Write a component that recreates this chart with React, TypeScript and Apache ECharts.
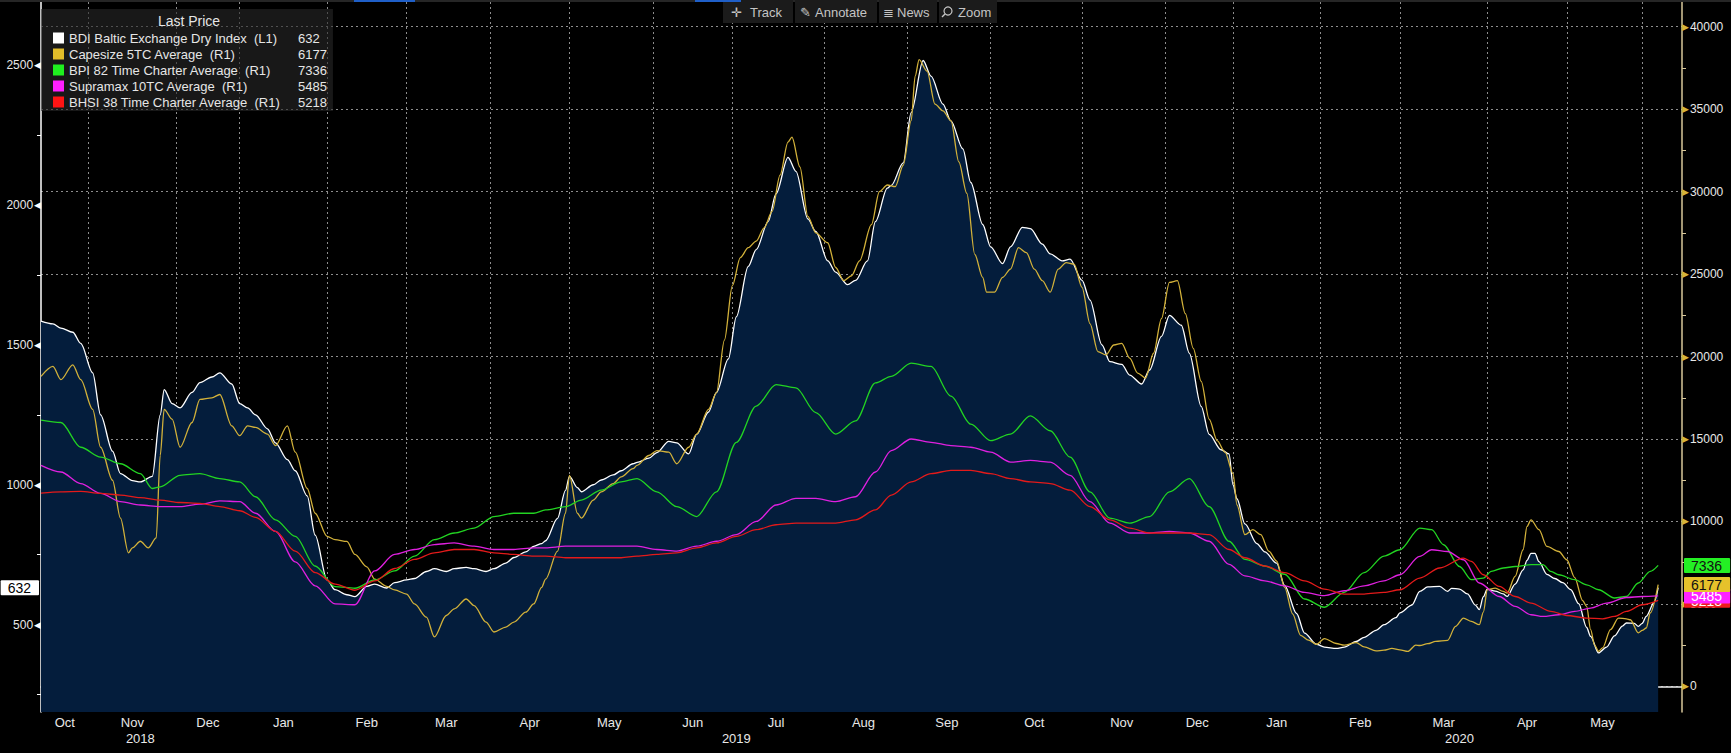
import React, { useEffect, useRef } from 'react';
import * as echarts from 'echarts';

type P = [string, number];

// ---------- calendar (trading days of the Baltic Exchange) ----------
const FIRST_DAY = '2018-10-16';
const LAST_AXIS_DAY = '2020-06-15';
const HOLIDAYS = [
  '2018-12-25', '2018-12-26', '2018-12-27', '2018-12-28', '2018-12-31', '2019-01-01',
  '2019-04-19', '2019-04-22', '2019-05-06', '2019-05-27', '2019-08-26',
  '2019-12-25', '2019-12-26', '2019-12-27', '2019-12-30', '2019-12-31', '2020-01-01',
  '2020-04-10', '2020-04-13', '2020-05-08', '2020-05-25',
];
const MONTH_NAMES = ['Jan', 'Feb', 'Mar', 'Apr', 'May', 'Jun', 'Jul', 'Aug', 'Sep', 'Oct', 'Nov', 'Dec'];

// ---------- axis ticks ----------
const LEFT_RANGE = [188, 2725];
const RIGHT_RANGE = [-1552, 41497];
const LEFT_TICKS = [500, 1000, 1500, 2000, 2500];
const LEFT_MINOR_TICKS = [250, 750, 1250, 1750, 2250];
const RIGHT_TICKS = [0, 5000, 10000, 15000, 20000, 25000, 30000, 35000, 40000];
const RIGHT_MINOR_TICKS = [2500, 7500, 12500, 17500, 22500, 27500, 32500, 37500];

// ---------- series values ----------
const bdi: P[] = [
  ['2018-10-16', 1585], ['2018-10-19', 1575], ['2018-10-23', 1560], ['2018-10-26', 1545], ['2018-10-30', 1505],
  ['2018-11-02', 1400], ['2018-11-06', 1250], ['2018-11-09', 1120], ['2018-11-13', 1040], ['2018-11-16', 1015],
  ['2018-11-20', 1010], ['2018-11-23', 1030], ['2018-11-27', 1250], ['2018-11-28', 1340], ['2018-11-30', 1290],
  ['2018-12-04', 1275], ['2018-12-07', 1330], ['2018-12-11', 1365], ['2018-12-14', 1385], ['2018-12-18', 1400],
  ['2018-12-21', 1360], ['2019-01-02', 1290], ['2019-01-04', 1275], ['2019-01-08', 1250], ['2019-01-11', 1200],
  ['2019-01-15', 1150], ['2019-01-18', 1090], ['2019-01-22', 1050], ['2019-01-25', 960], ['2019-01-29', 820],
  ['2019-02-01', 660], ['2019-02-05', 625], ['2019-02-08', 607], ['2019-02-12', 600], ['2019-02-15', 637],
  ['2019-02-19', 645], ['2019-02-22', 631], ['2019-02-26', 650], ['2019-03-01', 660], ['2019-03-05', 665],
  ['2019-03-08', 690], ['2019-03-12', 700], ['2019-03-15', 690], ['2019-03-19', 700], ['2019-03-22', 705],
  ['2019-03-26', 700], ['2019-03-29', 690], ['2019-04-02', 700], ['2019-04-05', 720], ['2019-04-09', 740],
  ['2019-04-12', 760], ['2019-04-16', 780], ['2019-04-18', 790], ['2019-04-23', 800], ['2019-04-26', 880],
  ['2019-04-30', 980], ['2019-05-01', 1030], ['2019-05-03', 990], ['2019-05-07', 975], ['2019-05-10', 1000],
  ['2019-05-14', 1017], ['2019-05-17', 1035], ['2019-05-21', 1050], ['2019-05-24', 1075], ['2019-05-28', 1080],
  ['2019-05-31', 1095], ['2019-06-04', 1115], ['2019-06-07', 1155], ['2019-06-11', 1150], ['2019-06-14', 1110],
  ['2019-06-18', 1180], ['2019-06-21', 1260], ['2019-06-25', 1330], ['2019-06-28', 1450], ['2019-07-02', 1600],
  ['2019-07-05', 1780], ['2019-07-09', 1840], ['2019-07-12', 1940], ['2019-07-16', 2040], ['2019-07-19', 2170],
  ['2019-07-23', 2120], ['2019-07-26', 1950], ['2019-07-30', 1905], ['2019-08-02', 1800], ['2019-08-06', 1760],
  ['2019-08-09', 1715], ['2019-08-13', 1730], ['2019-08-16', 1800], ['2019-08-20', 1940], ['2019-08-23', 2060],
  ['2019-08-27', 2070], ['2019-08-30', 2150], ['2019-09-03', 2330], ['2019-09-06', 2516], ['2019-09-10', 2460],
  ['2019-09-13', 2360], ['2019-09-17', 2300], ['2019-09-20', 2200], ['2019-09-24', 2080], ['2019-09-27', 1930],
  ['2019-10-01', 1850], ['2019-10-04', 1790], ['2019-10-08', 1850], ['2019-10-11', 1920], ['2019-10-15', 1915],
  ['2019-10-18', 1860], ['2019-10-22', 1825], ['2019-10-25', 1800], ['2019-10-29', 1806], ['2019-11-01', 1730],
  ['2019-11-05', 1660], ['2019-11-08', 1500], ['2019-11-12', 1440], ['2019-11-15', 1430], ['2019-11-19', 1392],
  ['2019-11-22', 1360], ['2019-11-26', 1410], ['2019-11-29', 1530], ['2019-12-03', 1605], ['2019-12-06', 1570],
  ['2019-12-10', 1470], ['2019-12-13', 1280], ['2019-12-17', 1180], ['2019-12-20', 1125], ['2019-12-24', 1110],
  ['2020-01-02', 1000], ['2020-01-03', 950], ['2020-01-07', 860], ['2020-01-10', 790], ['2020-01-14', 760],
  ['2020-01-17', 720], ['2020-01-21', 640], ['2020-01-24', 540], ['2020-01-28', 470], ['2020-01-31', 430],
  ['2020-02-04', 420], ['2020-02-07', 415], ['2020-02-11', 420], ['2020-02-14', 440], ['2020-02-18', 455],
  ['2020-02-21', 480], ['2020-02-25', 500], ['2020-02-28', 525], ['2020-03-02', 542], ['2020-03-05', 570],
  ['2020-03-09', 619], ['2020-03-11', 635], ['2020-03-16', 637], ['2020-03-18', 619], ['2020-03-19', 630],
  ['2020-03-23', 627], ['2020-03-25', 610], ['2020-03-27', 570], ['2020-03-30', 554], ['2020-03-31', 600],
  ['2020-04-01', 627], ['2020-04-03', 620], ['2020-04-07', 610], ['2020-04-08', 601], ['2020-04-14', 645],
  ['2020-04-16', 696], ['2020-04-17', 730], ['2020-04-20', 755], ['2020-04-21', 755], ['2020-04-22', 725],
  ['2020-04-24', 680], ['2020-04-28', 665], ['2020-04-30', 650], ['2020-05-04', 625], ['2020-05-06', 575],
  ['2020-05-11', 490], ['2020-05-12', 458], ['2020-05-14', 399], ['2020-05-18', 420], ['2020-05-20', 460],
  ['2020-05-22', 495], ['2020-05-26', 506], ['2020-05-28', 505], ['2020-05-29', 494], ['2020-06-01', 505],
  ['2020-06-02', 530], ['2020-06-04', 580], ['2020-06-05', 632],
];

const capesize: P[] = [
  ['2018-10-16', 18800], ['2018-10-19', 19400], ['2018-10-23', 18600], ['2018-10-26', 19500], ['2018-10-30', 18600],
  ['2018-11-02', 16800], ['2018-11-06', 14500], ['2018-11-09', 12500], ['2018-11-13', 10200], ['2018-11-15', 8100],
  ['2018-11-16', 8400], ['2018-11-20', 8800], ['2018-11-22', 8400], ['2018-11-26', 9000], ['2018-11-27', 14000],
  ['2018-11-28', 16800], ['2018-11-30', 16200], ['2018-12-04', 14500], ['2018-12-07', 16000], ['2018-12-11', 17400],
  ['2018-12-14', 17500], ['2018-12-18', 17700], ['2018-12-21', 15800], ['2019-01-02', 15200], ['2019-01-04', 15800],
  ['2019-01-08', 15700], ['2019-01-11', 15300], ['2019-01-15', 14600], ['2019-01-18', 15800], ['2019-01-22', 14200],
  ['2019-01-25', 12000], ['2019-01-29', 10500], ['2019-02-01', 9100], ['2019-02-05', 8900], ['2019-02-08', 8790],
  ['2019-02-12', 8000], ['2019-02-15', 7250], ['2019-02-19', 6500], ['2019-02-22', 6060], ['2019-02-26', 5850],
  ['2019-03-01', 5600], ['2019-03-05', 5000], ['2019-03-08', 4200], ['2019-03-12', 3000], ['2019-03-15', 4300],
  ['2019-03-19', 4700], ['2019-03-22', 5300], ['2019-03-26', 4900], ['2019-03-29', 3900], ['2019-04-02', 3300],
  ['2019-04-05', 3600], ['2019-04-09', 3900], ['2019-04-12', 4500], ['2019-04-16', 5000], ['2019-04-18', 6000],
  ['2019-04-23', 6500], ['2019-04-26', 8200], ['2019-04-30', 10500], ['2019-05-01', 12800], ['2019-05-03', 10500],
  ['2019-05-07', 10200], ['2019-05-10', 11300], ['2019-05-14', 11800], ['2019-05-17', 12300], ['2019-05-21', 12700],
  ['2019-05-24', 13200], ['2019-05-28', 13400], ['2019-05-31', 14000], ['2019-06-04', 14300], ['2019-06-07', 14200],
  ['2019-06-11', 13500], ['2019-06-14', 14500], ['2019-06-18', 15300], ['2019-06-21', 16800], ['2019-06-25', 17800],
  ['2019-06-27', 21000], ['2019-07-01', 24300], ['2019-07-03', 26000], ['2019-07-05', 26600], ['2019-07-09', 27000],
  ['2019-07-11', 27800], ['2019-07-15', 28800], ['2019-07-17', 31000], ['2019-07-19', 33000], ['2019-07-22', 33300],
  ['2019-07-24', 31500], ['2019-07-26', 28500], ['2019-07-30', 27500], ['2019-08-02', 26900], ['2019-08-06', 25400],
  ['2019-08-08', 24600], ['2019-08-12', 24900], ['2019-08-14', 25800], ['2019-08-19', 28000], ['2019-08-21', 30000],
  ['2019-08-23', 30400], ['2019-08-28', 30300], ['2019-08-30', 31600], ['2019-09-03', 34300], ['2019-09-04', 37000],
  ['2019-09-05', 38000], ['2019-09-09', 37300], ['2019-09-11', 35300], ['2019-09-13', 34900], ['2019-09-17', 34300],
  ['2019-09-19', 31800], ['2019-09-23', 29900], ['2019-09-25', 26200], ['2019-09-27', 24800], ['2019-09-30', 23900],
  ['2019-10-02', 23900], ['2019-10-04', 24800], ['2019-10-08', 25300], ['2019-10-10', 26600], ['2019-10-14', 26300],
  ['2019-10-16', 25300], ['2019-10-18', 24600], ['2019-10-22', 23900], ['2019-10-24', 25300], ['2019-10-28', 25700],
  ['2019-10-30', 25600], ['2019-11-01', 24200], ['2019-11-05', 22000], ['2019-11-07', 20300], ['2019-11-11', 20100],
  ['2019-11-13', 20700], ['2019-11-15', 20800], ['2019-11-19', 19900], ['2019-11-21', 19000], ['2019-11-25', 18700],
  ['2019-11-27', 20200], ['2019-11-29', 22300], ['2019-12-03', 24500], ['2019-12-05', 24600], ['2019-12-09', 22600],
  ['2019-12-11', 20500], ['2019-12-13', 18500], ['2019-12-17', 16200], ['2019-12-19', 14900], ['2019-12-23', 14200],
  ['2020-01-02', 12900], ['2020-01-03', 11000], ['2020-01-07', 9200], ['2020-01-09', 9500], ['2020-01-13', 9200],
  ['2020-01-15', 8200], ['2020-01-17', 7600], ['2020-01-21', 6000], ['2020-01-23', 4400], ['2020-01-27', 3100],
  ['2020-01-29', 2800], ['2020-01-31', 2550], ['2020-02-04', 2900], ['2020-02-07', 2600], ['2020-02-11', 2500],
  ['2020-02-14', 2650], ['2020-02-18', 2400], ['2020-02-21', 2150], ['2020-02-25', 2200], ['2020-02-27', 2300],
  ['2020-03-02', 2220], ['2020-03-04', 2120], ['2020-03-06', 2500], ['2020-03-09', 2480], ['2020-03-11', 2590],
  ['2020-03-13', 2730], ['2020-03-18', 2790], ['2020-03-20', 3640], ['2020-03-24', 4145], ['2020-03-26', 3940],
  ['2020-03-30', 3740], ['2020-03-31', 4500], ['2020-04-01', 5860], ['2020-04-03', 5960], ['2020-04-07', 5760],
  ['2020-04-08', 5660], ['2020-04-14', 6670], ['2020-04-16', 8285], ['2020-04-17', 9700], ['2020-04-20', 10100],
  ['2020-04-22', 9500], ['2020-04-24', 8485], ['2020-04-29', 8180], ['2020-05-01', 7680], ['2020-05-05', 6600],
  ['2020-05-07', 5200], ['2020-05-11', 4850], ['2020-05-12', 3440], ['2020-05-13', 2500], ['2020-05-14', 2120],
  ['2020-05-15', 2330], ['2020-05-19', 3440], ['2020-05-21', 4145], ['2020-05-26', 4100], ['2020-05-27', 4040],
  ['2020-05-29', 3240], ['2020-06-01', 3400], ['2020-06-02', 3540], ['2020-06-03', 4450], ['2020-06-05', 6177],
];

const bpi82: P[] = [
  ['2018-10-16', 16150], ['2018-10-23', 16000], ['2018-10-30', 14500], ['2018-11-06', 13900], ['2018-11-13', 13500],
  ['2018-11-20', 12900], ['2018-11-23', 12000], ['2018-11-27', 12100], ['2018-12-04', 12800], ['2018-12-11', 12900],
  ['2018-12-18', 12600], ['2019-01-02', 12400], ['2019-01-08', 11500], ['2019-01-15', 10100], ['2019-01-22', 9100],
  ['2019-01-29', 7300], ['2019-02-05', 6050], ['2019-02-12', 5950], ['2019-02-19', 6450], ['2019-02-26', 7000],
  ['2019-03-05', 7900], ['2019-03-12', 8900], ['2019-03-19', 9300], ['2019-03-26', 9600], ['2019-04-02', 10300],
  ['2019-04-09', 10500], ['2019-04-16', 10500], ['2019-04-23', 10700], ['2019-04-30', 10900], ['2019-05-07', 11300],
  ['2019-05-14', 11900], ['2019-05-21', 12400], ['2019-05-28', 12600], ['2019-06-04', 11800], ['2019-06-11', 10900],
  ['2019-06-18', 10300], ['2019-06-25', 11800], ['2019-07-02', 14800], ['2019-07-09', 17000], ['2019-07-16', 18300],
  ['2019-07-23', 18100], ['2019-07-30', 16600], ['2019-08-06', 15300], ['2019-08-13', 16100], ['2019-08-20', 18400],
  ['2019-08-27', 18800], ['2019-09-03', 19600], ['2019-09-10', 19400], ['2019-09-17', 17600], ['2019-09-24', 15900],
  ['2019-10-01', 14900], ['2019-10-08', 15300], ['2019-10-15', 16400], ['2019-10-22', 15500], ['2019-10-29', 13900],
  ['2019-11-05', 11800], ['2019-11-12', 10200], ['2019-11-19', 9900], ['2019-11-26', 10300], ['2019-12-03', 11800],
  ['2019-12-10', 12600], ['2019-12-17', 10900], ['2019-12-24', 8800], ['2020-01-07', 7700], ['2020-01-14', 7300],
  ['2020-01-21', 6800], ['2020-01-28', 5300], ['2020-02-04', 4800], ['2020-02-11', 5700], ['2020-02-18', 6900],
  ['2020-02-25', 7900], ['2020-03-02', 8285], ['2020-03-09', 9600], ['2020-03-12', 9500], ['2020-03-17', 8590],
  ['2020-03-23', 7270], ['2020-03-26', 6470], ['2020-03-31', 6570], ['2020-04-02', 6970], ['2020-04-07', 7180],
  ['2020-04-14', 7270], ['2020-04-20', 7380], ['2020-04-23', 7380], ['2020-04-27', 6970], ['2020-04-29', 6770],
  ['2020-05-05', 6470], ['2020-05-11', 6160], ['2020-05-14', 5860], ['2020-05-20', 5360], ['2020-05-26', 5450],
  ['2020-05-29', 6270], ['2020-06-03', 6970], ['2020-06-05', 7336],
];

const supramax: P[] = [
  ['2018-10-16', 13400], ['2018-10-23', 13000], ['2018-10-30', 12300], ['2018-11-06', 11700], ['2018-11-13', 11200],
  ['2018-11-20', 11000], ['2018-11-27', 10900], ['2018-12-04', 10900], ['2018-12-11', 11050], ['2018-12-18', 11250],
  ['2019-01-02', 11200], ['2019-01-08', 10500], ['2019-01-15', 9400], ['2019-01-22', 7550], ['2019-01-29', 6100],
  ['2019-02-05', 5000], ['2019-02-12', 4950], ['2019-02-19', 7000], ['2019-02-26', 8000], ['2019-03-05', 8300],
  ['2019-03-12', 8600], ['2019-03-19', 8700], ['2019-03-26', 8500], ['2019-04-02', 8300], ['2019-04-09', 8300],
  ['2019-04-16', 8400], ['2019-04-23', 8400], ['2019-04-30', 8500], ['2019-05-07', 8500], ['2019-05-14', 8500],
  ['2019-05-21', 8500], ['2019-05-28', 8500], ['2019-06-04', 8300], ['2019-06-11', 8200], ['2019-06-18', 8500],
  ['2019-06-25', 8800], ['2019-07-02', 9200], ['2019-07-09', 10000], ['2019-07-16', 11000], ['2019-07-23', 11400],
  ['2019-07-30', 11400], ['2019-08-06', 11200], ['2019-08-13', 11500], ['2019-08-20', 13000], ['2019-08-27', 14300],
  ['2019-09-03', 15000], ['2019-09-10', 14800], ['2019-09-17', 14600], ['2019-09-24', 14500], ['2019-10-01', 14200],
  ['2019-10-08', 13600], ['2019-10-15', 13700], ['2019-10-22', 13600], ['2019-10-29', 12800], ['2019-11-05', 11200],
  ['2019-11-12', 9900], ['2019-11-19', 9300], ['2019-11-26', 9300], ['2019-12-03', 9400], ['2019-12-10', 9300],
  ['2019-12-17', 8800], ['2019-12-24', 7400], ['2020-01-07', 6700], ['2020-01-14', 6400], ['2020-01-21', 6100],
  ['2020-01-28', 5700], ['2020-02-04', 5500], ['2020-02-11', 5800], ['2020-02-18', 6100], ['2020-02-25', 6400],
  ['2020-03-02', 6770], ['2020-03-09', 7880], ['2020-03-12', 8285], ['2020-03-18', 8180], ['2020-03-24', 7680],
  ['2020-03-30', 6270], ['2020-04-06', 5450], ['2020-04-14', 4850], ['2020-04-20', 4345], ['2020-04-23', 4240],
  ['2020-04-29', 4345], ['2020-05-05', 4545], ['2020-05-12', 4750], ['2020-05-18', 5050], ['2020-05-26', 5390],
  ['2020-06-01', 5450], ['2020-06-05', 5485],
];

const bhsi38: P[] = [
  ['2018-10-16', 11720], ['2018-10-23', 11800], ['2018-10-30', 11820], ['2018-11-06', 11700], ['2018-11-13', 11600],
  ['2018-11-20', 11450], ['2018-11-27', 11300], ['2018-12-04', 11150], ['2018-12-11', 11100], ['2018-12-18', 10900],
  ['2019-01-02', 10650], ['2019-01-08', 10250], ['2019-01-15', 9400], ['2019-01-22', 8200], ['2019-01-29', 6900],
  ['2019-02-05', 6200], ['2019-02-12', 5830], ['2019-02-19', 6400], ['2019-02-26', 7150], ['2019-03-05', 7700],
  ['2019-03-12', 8100], ['2019-03-19', 8300], ['2019-03-26', 8300], ['2019-04-02', 8100], ['2019-04-09', 8000],
  ['2019-04-16', 7900], ['2019-04-23', 7900], ['2019-04-30', 7800], ['2019-05-07', 7800], ['2019-05-14', 7800],
  ['2019-05-21', 7800], ['2019-05-28', 7900], ['2019-06-04', 8000], ['2019-06-11', 8100], ['2019-06-18', 8400],
  ['2019-06-25', 8700], ['2019-07-02', 9100], ['2019-07-09', 9500], ['2019-07-16', 9800], ['2019-07-23', 9900],
  ['2019-07-30', 9900], ['2019-08-06', 9900], ['2019-08-13', 10100], ['2019-08-20', 10700], ['2019-08-27', 11600],
  ['2019-09-03', 12400], ['2019-09-10', 12900], ['2019-09-17', 13100], ['2019-09-24', 13100], ['2019-10-01', 12900],
  ['2019-10-08', 12600], ['2019-10-15', 12400], ['2019-10-22', 12300], ['2019-10-29', 11900], ['2019-11-05', 10900],
  ['2019-11-12', 10100], ['2019-11-19', 9600], ['2019-11-26', 9300], ['2019-12-03', 9300], ['2019-12-10', 9300],
  ['2019-12-17', 9200], ['2019-12-24', 8300], ['2020-01-07', 7800], ['2020-01-14', 7300], ['2020-01-21', 6900],
  ['2020-01-28', 6400], ['2020-02-04', 5900], ['2020-02-11', 5600], ['2020-02-18', 5600], ['2020-02-25', 5700],
  ['2020-03-02', 5860], ['2020-03-09', 6570], ['2020-03-16', 7180], ['2020-03-24', 7780], ['2020-03-26', 7580],
  ['2020-03-31', 6770], ['2020-04-06', 6060], ['2020-04-14', 5450], ['2020-04-20', 5050], ['2020-04-27', 4545],
  ['2020-05-01', 4300], ['2020-05-11', 4145], ['2020-05-15', 4100], ['2020-05-20', 4240], ['2020-05-26', 4545],
  ['2020-06-01', 4950], ['2020-06-05', 5218],
];

const SERIES_INFO = [
  { name: 'BDI Baltic Exchange Dry Index', suffix: '(L1)', data: bdi, axis: 0, line: '#ffffff', icon: '#ffffff', tagBg: '#ffffff', tagFg: '#000000' },
  { name: 'Capesize 5TC Average', suffix: '(R1)', data: capesize, axis: 1, line: '#d2b13a', icon: '#e0bc2a', tagBg: '#e6c22b', tagFg: '#111111' },
  { name: 'BPI 82 Time Charter Average', suffix: '(R1)', data: bpi82, axis: 1, line: '#22d422', icon: '#1ff01f', tagBg: '#24ef24', tagFg: '#111111' },
  { name: 'Supramax 10TC Average', suffix: '(R1)', data: supramax, axis: 1, line: '#e020e0', icon: '#ff1fff', tagBg: '#ff22ff', tagFg: '#ffffff' },
  { name: 'BHSI 38 Time Charter Average', suffix: '(R1)', data: bhsi38, axis: 1, line: '#e41a1a', icon: '#ff1414', tagBg: '#ee1c1c', tagFg: '#ffffff' },
];

const FONT = "'Liberation Sans', Arial, sans-serif";

function tradingDays(start: string, end: string, holidays: string[]): string[] {
  const out: string[] = [];
  const d = new Date(start + 'T00:00:00Z');
  const e = new Date(end + 'T00:00:00Z');
  while (d.getTime() <= e.getTime()) {
    const wd = d.getUTCDay();
    const s = d.toISOString().slice(0, 10);
    if (wd !== 0 && wd !== 6 && holidays.indexOf(s) < 0) out.push(s);
    d.setUTCDate(d.getUTCDate() + 1);
  }
  return out;
}

function buildOption() {
  const cats = tradingDays(FIRST_DAY, LAST_AXIS_DAY, HOLIDAYS);
  const catSet = new Set(cats);
  const lastDataIdx = cats.indexOf(bdi[bdi.length - 1][0]);

  const monthStarts: number[] = [];
  const yearStarts: number[] = [];
  for (let i = 1; i < cats.length; i++) {
    if (cats[i].slice(0, 7) !== cats[i - 1].slice(0, 7)) monthStarts.push(i);
    if (cats[i].slice(0, 4) !== cats[i - 1].slice(0, 4)) yearStarts.push(i);
  }
  const monthStartSet = new Set(monthStarts);
  const yearStartSet = new Set(yearStarts);
  const monthMid = new Set<number>();
  const mb = [0, ...monthStarts, cats.length];
  for (let k = 0; k < mb.length - 1; k++) {
    const mid = Math.floor((mb[k] + mb[k + 1]) / 2);
    if (mid <= lastDataIdx) monthMid.add(mid);
  }
  const yearMid = new Set<number>();
  const yb = [0, ...yearStarts, cats.length];
  for (let k = 0; k < yb.length - 1; k++) yearMid.add(Math.floor((yb[k] + yb[k + 1]) / 2));

  const gridLine = { color: '#8d8d8d', type: [2, 3] as any, width: 1 };

  const tagPointer = (value: number, bg: string, fg: string) => ({
    show: true,
    type: 'line',
    snap: false,
    status: 'show',
    value,
    triggerTooltip: false,
    lineStyle: { opacity: 0, width: 0 },
    handle: { show: false },
    label: {
      show: true,
      formatter: () => String(value),
      backgroundColor: bg,
      color: fg,
      fontFamily: FONT,
      fontSize: 14,
      padding: [1, 8, 0, 7],
      margin: 2,
      borderRadius: 1,
    },
  });

  const hiddenRight = (extra: any) => ({
    type: 'value',
    position: 'right',
    min: RIGHT_RANGE[0],
    max: RIGHT_RANGE[1],
    show: true,
    axisLine: { show: false },
    axisTick: { show: false },
    axisLabel: { show: false },
    splitLine: { show: false },
    ...extra,
  });

  const legendNames = SERIES_INFO.map((s) => s.name);
  const lastVal: Record<string, number> = {};
  const suffix: Record<string, string> = {};
  SERIES_INFO.forEach((s) => {
    lastVal[s.name] = s.data[s.data.length - 1][1];
    suffix[s.name] = s.suffix;
  });

  const tagOrder = [4, 3, 1, 2];

  const yAxis: any[] = [
    {
      type: 'value',
      position: 'left',
      min: LEFT_RANGE[0],
      max: LEFT_RANGE[1],
      axisLine: { show: true, lineStyle: { color: '#ffffff', width: 1.5 } },
      axisTick: { show: true, customValues: LEFT_MINOR_TICKS, length: 4, lineStyle: { color: '#ffffff' } },
      axisLabel: {
        customValues: LEFT_TICKS,
        margin: 0,
        formatter: (v: number) => `{v|${v}}{t|◀}`,
        rich: {
          v: { color: '#e8e8e8', fontSize: 12, fontFamily: FONT, padding: [0, 1, 0, 0] },
          t: { color: '#ffffff', fontSize: 9, fontFamily: 'DejaVu Sans' },
        },
      },
      splitLine: { show: false },
      axisPointer: tagPointer(lastVal[SERIES_INFO[0].name], SERIES_INFO[0].tagBg, SERIES_INFO[0].tagFg),
    },
    {
      type: 'value',
      position: 'right',
      min: RIGHT_RANGE[0],
      max: RIGHT_RANGE[1],
      axisLine: { show: true, lineStyle: { color: '#d9c89b', width: 1.5 } },
      axisTick: { show: true, customValues: RIGHT_MINOR_TICKS, length: 4, lineStyle: { color: '#d9c89b' } },
      axisLabel: {
        customValues: RIGHT_TICKS,
        margin: 0,
        formatter: (v: number) => `{t|▶}{v|${v}}`,
        rich: {
          v: { color: '#e8e8e8', fontSize: 12, fontFamily: FONT, padding: [0, 0, 0, 1] },
          t: { color: '#d6b43a', fontSize: 9, fontFamily: 'DejaVu Sans' },
        },
      },
      splitLine: { show: false },
    },
    hiddenRight({
      minInterval: 5000,
      maxInterval: 5000,
      splitNumber: 8,
      splitLine: { show: true, showMinLine: false, showMaxLine: false, lineStyle: gridLine },
    }),
    ...tagOrder.map((i) =>
      hiddenRight({ axisPointer: tagPointer(lastVal[SERIES_INFO[i].name], SERIES_INFO[i].tagBg, SERIES_INFO[i].tagFg) })
    ),
  ];

  const series = SERIES_INFO.map((s, i) => ({
    type: 'line',
    name: s.name,
    xAxisIndex: 0,
    yAxisIndex: s.axis,
    data: s.data.filter((p) => catSet.has(p[0])),
    showSymbol: false,
    symbol: 'none',
    smooth: 0.3,
    smoothMonotone: 'x',
    lineStyle: { color: s.line, width: 1.3 },
    itemStyle: { color: s.icon },
    emphasis: { disabled: true },
    z: 2 + i,
    ...(i === 0 ? { areaStyle: { color: '#041d3c', opacity: 1 } } : {}),
  }));

  const TOP_Z = 100;
  const btn = (x: number, w: number) => ({
    type: 'rect',
    z: TOP_Z,
    shape: { x, y: 0, width: w, height: 23 },
    style: { fill: '#1b1b1b' },
  });
  const btnText = (x: number, text: string) => ({
    type: 'text',
    z: TOP_Z + 1,
    x,
    y: 12,
    style: { text, fill: '#c4c4c4', font: `13px ${FONT}`, textVerticalAlign: 'middle' },
  });

  return {
    animation: false,
    backgroundColor: '#000000',
    textStyle: { fontFamily: FONT },
    grid: { left: 41, right: 49, top: 2, bottom: 41, containLabel: false },
    legend: {
      show: true,
      orient: 'vertical',
      left: 41,
      top: 9,
      padding: [21, 6, 1, 12],
      itemWidth: 11,
      itemHeight: 11,
      itemGap: 0,
      icon: 'rect',
      selectedMode: false,
      backgroundColor: 'rgba(40,40,40,0.6)',
      data: legendNames,
      formatter: (name: string) => `{n|${name}  ${suffix[name]}}{v|${lastVal[name]}}`,
      textStyle: {
        color: '#e6e6e6',
        fontSize: 13,
        lineHeight: 16,
        fontFamily: FONT,
        rich: {
          n: { width: 229, color: '#e6e6e6', fontSize: 13, fontFamily: FONT, lineHeight: 16, height: 16 },
          v: { color: '#e6e6e6', fontSize: 13, fontFamily: FONT, lineHeight: 16, height: 16 },
        },
      },
    },
    xAxis: [
      {
        type: 'category',
        data: cats,
        boundaryGap: false,
        position: 'bottom',
        axisLine: { show: true, lineStyle: { color: '#f0f0f0', width: 1.5 } },
        axisTick: {
          show: true,
          interval: (i: number) => monthStartSet.has(i),
          length: 5,
          lineStyle: { color: '#f0f0f0' },
        },
        axisLabel: {
          interval: (i: number) => monthMid.has(i),
          formatter: (v: string) => MONTH_NAMES[parseInt(v.slice(5, 7), 10) - 1],
          color: '#e8e8e8',
          fontSize: 13,
          fontFamily: FONT,
          margin: 4,
        },
        splitLine: { show: true, interval: (i: number) => monthStartSet.has(i), lineStyle: gridLine },
      },
      {
        type: 'category',
        data: cats,
        boundaryGap: false,
        position: 'bottom',
        offset: 17,
        axisLine: { show: false },
        axisTick: {
          show: true,
          interval: (i: number) => yearStartSet.has(i),
          length: 17,
          lineStyle: { color: '#7a7a7a' },
        },
        axisLabel: {
          interval: (i: number) => yearMid.has(i),
          formatter: (v: string) => v.slice(0, 4),
          color: '#e8e8e8',
          fontSize: 13,
          fontFamily: FONT,
          margin: 3,
        },
        splitLine: { show: false },
      },
    ],
    yAxis,
    series,
    graphic: {
      elements: [
        { type: 'rect', z: TOP_Z, shape: { x: 0, y: 0, width: 1731, height: 2 }, style: { fill: '#262626' } },
        { type: 'rect', z: TOP_Z + 1, shape: { x: 354, y: 0, width: 61, height: 2 }, style: { fill: '#1f5fc8' } },
        { type: 'rect', z: TOP_Z + 1, shape: { x: 695, y: 0, width: 46, height: 2 }, style: { fill: '#1f5fc8' } },
        btn(723, 70),
        btn(795, 82),
        btn(879, 58),
        btn(939, 58),
        btnText(731, '✛'),
        btnText(750, 'Track'),
        btnText(800, '✎'),
        btnText(815, 'Annotate'),
        btnText(883, '≣'),
        btnText(897, 'News'),
        { type: 'circle', z: TOP_Z + 1, shape: { cx: 948, cy: 11, r: 4 }, style: { fill: 'none', stroke: '#c4c4c4', lineWidth: 1.2 } },
        { type: 'line', z: TOP_Z + 1, shape: { x1: 945, y1: 14, x2: 942, y2: 17 }, style: { stroke: '#c4c4c4', lineWidth: 1.4 } },
        btnText(958, 'Zoom'),
        {
          type: 'text',
          z: TOP_Z + 5,
          x: 189,
          y: 21,
          style: { text: 'Last Price', fill: '#e6e6e6', font: `14px ${FONT}`, textAlign: 'center', textVerticalAlign: 'middle' },
        },
      ],
    },
  };
}

export default function App() {
  const ref = useRef<HTMLDivElement>(null);
  useEffect(() => {
    if (!ref.current) return;
    const chart = echarts.init(ref.current, null, { renderer: 'svg' });
    chart.setOption(buildOption() as any);
    return () => chart.dispose();
  }, []);
  return (
    <div style={{ position: 'fixed', left: 0, top: 0, width: 1731, height: 753, background: '#000000' }}>
      <div ref={ref} style={{ width: 1731, height: 753 }} />
    </div>
  );
}
